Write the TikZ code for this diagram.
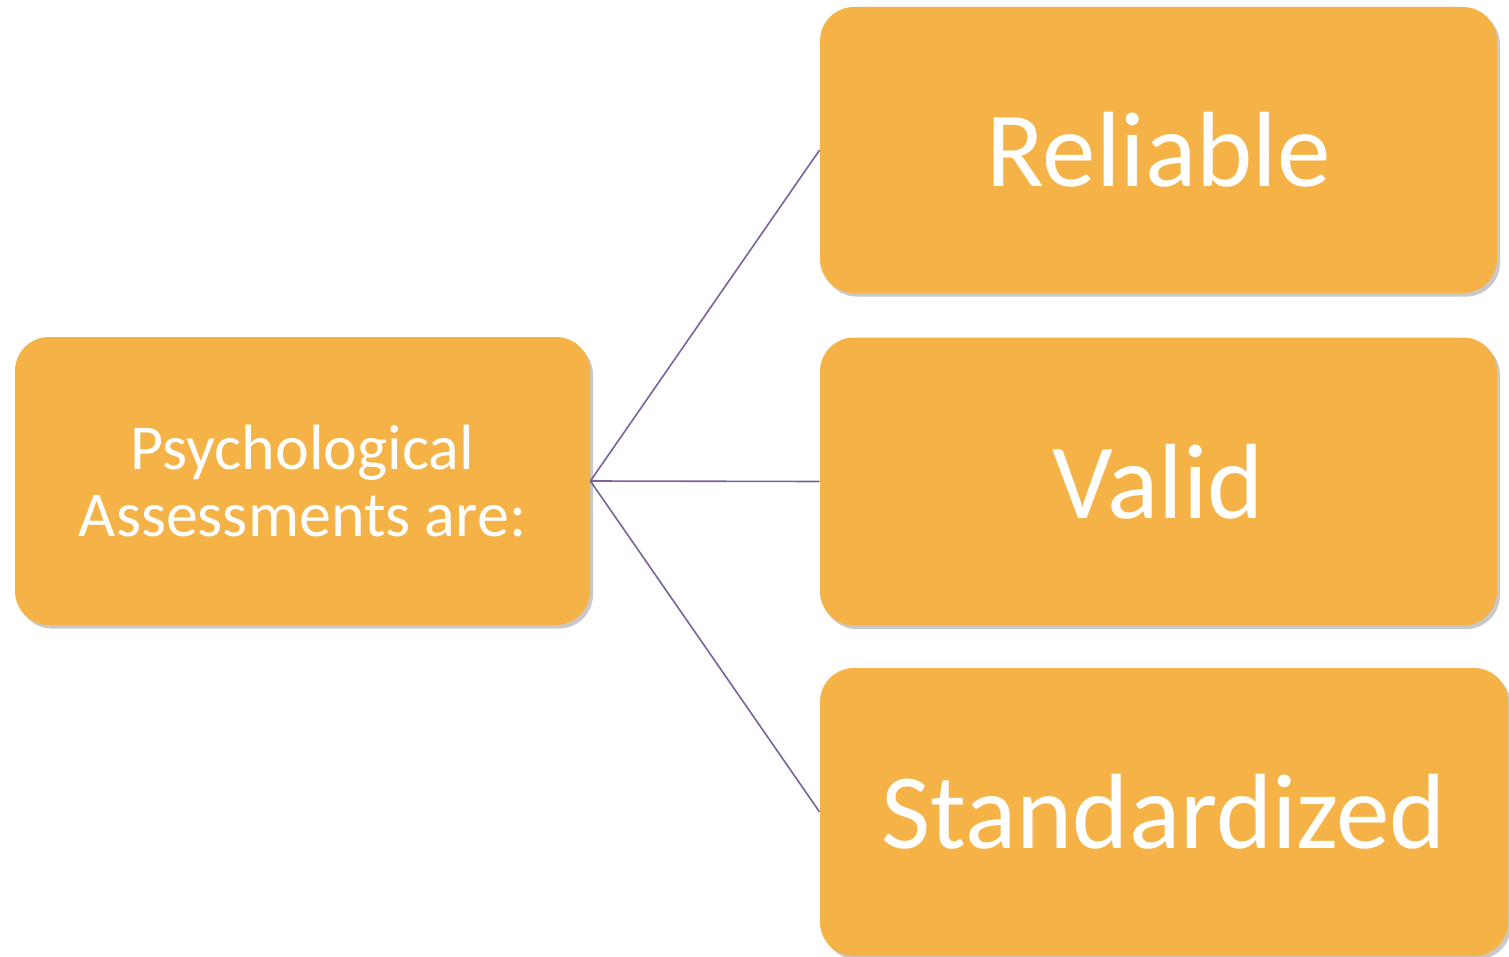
\documentclass[tikz,border=0pt]{standalone}
\usepackage{fontspec}
\setmainfont{Carlito}
\usetikzlibrary{shadows}

\definecolor{boxorange}{HTML}{F5B347}
\definecolor{linepurple}{HTML}{7A629A}

\begin{document}
\begin{tikzpicture}[x=0.5pt, y=-0.5pt,
  every node/.style={rectangle, rounded corners=17pt, fill=boxorange, text=white,
    align=center, inner sep=0pt,
    drop shadow={shadow xshift=1.5pt, shadow yshift=-1.8pt, opacity=0.3, fill=black!70}},
  bigbox/.style={font=\fontsize{53.5}{58}\selectfont},
  every edge/.style={draw=linepurple, line width=0.8pt}]

  \useasboundingbox (0,0) rectangle (1509,957);

  \node[minimum width=287.5pt, minimum height=144pt, font=\fontsize{32}{33.5}\selectfont]
    (psych) at (302.5, 481) {Psychological\\Assessments are:};
  \node[bigbox, minimum width=338.5pt, minimum height=143pt] (reliable) at (1158.5, 150) {Reliable};
  \node[bigbox, minimum width=338.5pt, minimum height=144pt] (valid) at (1158.5, 481.5) {Valid};
  \node[bigbox, minimum width=344pt, minimum height=144pt] (standard) at (1164, 812) {Standardized};

  \path (psych.east) edge (reliable.west);
  \path (psych.east) edge (valid.west);
  \path (psych.east) edge (standard.west);

\end{tikzpicture}
\end{document}
